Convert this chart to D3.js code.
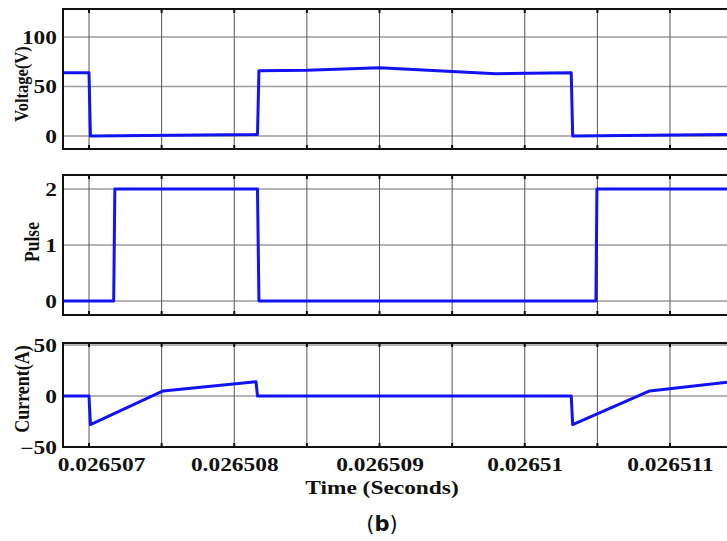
<!DOCTYPE html>
<html>
<head>
<meta charset="utf-8">
<script src="https://cdn.jsdelivr.net/npm/d3@7"></script>
<style>
  body { margin: 0; background: #fff; }
  svg { display: block; }
</style>
</head>
<body>
<script>
// time axis
var tickTimes = [0.026507, 0.026508, 0.026509, 0.02651, 0.026511];
var tickLabels = ['0.026507', '0.026508', '0.026509', '0.02651', '0.026511'];
var gridTimes = [0.026507, 0.0265075, 0.026508, 0.0265085, 0.026509, 0.0265095, 0.02651, 0.0265105, 0.026511];

// voltage trace
var voltageT = [0.02650682, 0.0265070, 0.02650701, 0.02650816, 0.02650817, 0.02650850, 0.02650900, 0.02650980, 0.02651032, 0.02651033, 0.02651140];
var voltageV = [64, 64, 0, 1.5, 66, 66.5, 69, 63, 64, 0, 1.5];

// pulse trace
var pulseT = [0.02650682, 0.02650717, 0.026507178, 0.02650816, 0.02650817, 0.02651049, 0.026510497, 0.02651140];
var pulseV = [0, 0, 2, 2, 0, 0, 2, 2];

// current trace
var currentT = [0.02650682, 0.0265070, 0.02650701, 0.02650751, 0.02650815, 0.02650816, 0.02651032, 0.02651033, 0.02651086, 0.02651140];
var currentV = [0, 0, -28, 5, 14, 0, 0, -28, 5, 13.5];

var W = 727, H = 541;
var left = 63, right = 745;
var serif = '"Liberation Serif", "Times New Roman", serif';
var stretch = 1.3;

var svg = d3.select('body').append('svg')
    .attr('width', W)
    .attr('height', H);

var x = d3.scaleLinear()
    .domain([0.026507, 0.026511])
    .range([89, 670]);

var panels = [
    { name: 'Voltage(V)', t: voltageT, v: voltageV, top: 9, bottom: 149, domain: [0, 100], range: [136, 37], ticks: [0, 50, 100], labX: 22, labY: 84, labSize: 16.5 },
    { name: 'Pulse', t: pulseT, v: pulseV, top: 175, bottom: 315, domain: [0, 2], range: [301, 189], ticks: [0, 1, 2], labX: 32, labY: 242, labSize: 17.5 },
    { name: 'Current(A)', t: currentT, v: currentV, top: 343, bottom: 447, domain: [-50, 50], range: [447, 345], ticks: [-50, 0, 50], labX: 22, labY: 389, labSize: 18 }
];

panels.forEach(function (p) {
    var y = d3.scaleLinear().domain(p.domain).range(p.range);
    var g = svg.append('g');

    // horizontal grid
    g.selectAll('.hgrid')
        .data(p.ticks)
        .enter()
        .append('line')
        .attr('x1', left).attr('x2', right)
        .attr('y1', function (d) { return y(d); })
        .attr('y2', function (d) { return y(d); })
        .attr('stroke', '#9c9c9c')
        .attr('stroke-width', 1.3);

    // vertical grid
    g.selectAll('.vgrid')
        .data(gridTimes)
        .enter()
        .append('line')
        .attr('x1', function (d) { return x(d); })
        .attr('x2', function (d) { return x(d); })
        .attr('y1', p.top).attr('y2', p.bottom)
        .attr('stroke', '#555')
        .attr('stroke-width', 1);

    // little tick marks top / bottom
    [p.top, p.bottom].forEach(function (yy, k) {
        g.selectAll('.tk' + k)
            .data(gridTimes)
            .enter()
            .append('line')
            .attr('x1', function (d) { return x(d); })
            .attr('x2', function (d) { return x(d); })
            .attr('y1', yy)
            .attr('y2', k == 0 ? yy + 4 : yy - 4)
            .attr('stroke', '#111')
            .attr('stroke-width', 2);
    });

    // trace
    var line = d3.line()
        .x(function (d, i) { return x(p.t[i]); })
        .y(function (d) { return y(d); });
    g.append('path')
        .datum(p.v)
        .attr('d', line)
        .attr('fill', 'none')
        .attr('stroke', '#1212f2')
        .attr('stroke-width', 3)
        .attr('stroke-linejoin', 'round');

    // frame
    g.append('path')
        .attr('d', 'M' + right + ',' + p.top + 'H' + left + 'V' + p.bottom + 'H' + right)
        .attr('fill', 'none')
        .attr('stroke', '#111')
        .attr('stroke-width', 2);

    // y axis labels
    var ya = g.append('g')
        .attr('transform', 'translate(' + left + ',0)')
        .call(d3.axisLeft(y).tickValues(p.ticks).tickSize(0).tickFormat(d3.format('d')));
    ya.select('.domain').remove();
    ya.selectAll('text')
        .attr('x', 0)
        .attr('dy', '0.34em')
        .attr('transform', 'translate(-6,0) scale(' + stretch + ',1)')
        .attr('fill', '#111')
        .style('font-family', serif)
        .style('font-weight', 'bold')
        .style('font-size', '18px');

    g.append('text')
        .attr('transform', 'translate(' + p.labX + ',' + p.labY + ') rotate(-90) scale(1,1.15)')
        .attr('text-anchor', 'middle')
        .attr('dy', '0.33em')
        .attr('fill', '#111')
        .style('font-family', serif)
        .style('font-weight', 'bold')
        .style('font-size', p.labSize + 'px')
        .text(p.name);
});

// x axis tick labels under the last panel
var xa = svg.append('g')
    .attr('transform', 'translate(0,447)')
    .call(d3.axisBottom(x).tickValues(tickTimes).tickSize(0)
        .tickFormat(function (d, i) { return tickLabels[i]; }));
xa.select('.domain').remove();
xa.selectAll('text')
    .attr('y', 0)
    .attr('dy', 0)
    .attr('transform', function (d, i) { return 'translate(' + (i == 0 ? 12 : 0) + ',24) scale(' + stretch + ',1)'; })
    .attr('fill', '#111')
    .style('font-family', serif)
    .style('font-weight', 'bold')
    .style('font-size', '18px');

svg.append('text')
    .attr('transform', 'translate(382,494) scale(' + stretch + ',1)')
    .attr('text-anchor', 'middle')
    .attr('fill', '#111')
    .style('font-family', serif)
    .style('font-weight', 'bold')
    .style('font-size', '18px')
    .text('Time (Seconds)');

var cap = svg.append('text')
    .attr('x', 382)
    .attr('y', 531)
    .attr('text-anchor', 'middle')
    .attr('fill', '#111')
    .style('font-family', '"DejaVu Sans", sans-serif')
    .style('font-size', '21px');
cap.append('tspan').text('(');
cap.append('tspan').style('font-weight', 'bold').text('b');
cap.append('tspan').text(')');
</script>
</body>
</html>
